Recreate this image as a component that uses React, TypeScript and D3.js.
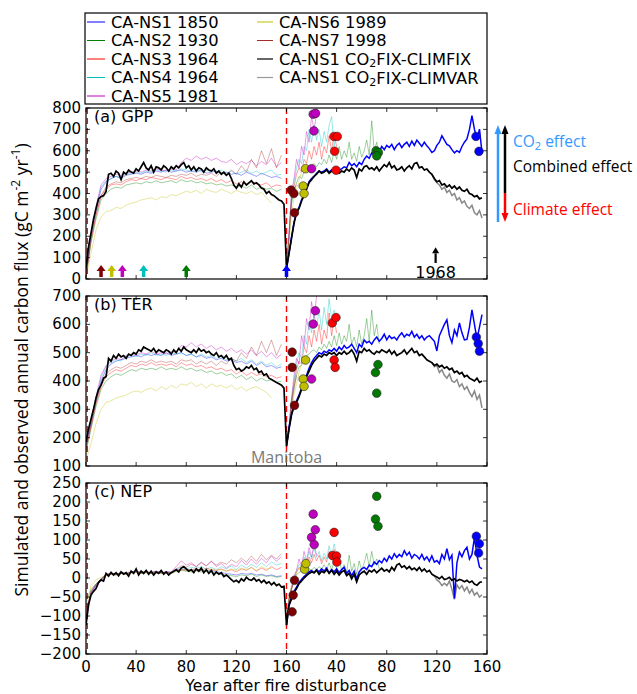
import React from "react";
import * as d3 from "d3";

// ---------------- DATA ----------------
const xTickYears = [0, 40, 80, 120, 160, 200, 240, 280, 320];
const xTickLabels = ["0", "40", "80", "120", "160", "40", "80", "120", "160"];

// step 2 yr from year 0
const gppClimfix = [50,150,215,280,330,375,385,390,410,490,
495,480,505,495,465,500,490,510,500,495,
515,505,525,545,520,510,530,500,525,520,
510,530,520,505,525,515,530,520,535,545,
520,530,510,525,505,520,515,500,520,510,
505,515,495,505,490,500,485,495,470,440,
425,445,430,455,440,450,460,445,450,440,
425,420,400,410,395,390,380,370,365,350,
50,120,190,260,310,330,365,390,420,450,
465,480,490,505,495,500,510,495,505,500,
510,495,505,500,515,505,520,510,475,515,
505,525,530,515,520,510,525,505,520,535,
525,545,520,530,510,515,525,505,520,530,
515,540,545,520,525,510,515,500,490,470,
455,460,440,445,430,440,425,435,420,430,
415,410,420,400,395,385,390,375,380];
// step 2 yr from year 160
const gppNs1 = [50,120,195,265,315,335,370,395,425,455,
470,480,495,505,500,505,515,500,510,505,
520,510,515,525,520,545,530,540,525,545,
535,560,575,565,590,580,600,595,620,605,
625,615,630,605,625,635,615,630,640,620,
645,625,650,635,620,640,623,610,592,600,
625,640,670,650,630,623,605,590,600,592,
620,640,655,700,764,700,655,701,592];
// step 2 yr from year 276
const gppClimvar = [490,465,450,440,420,430,405,415,390,400,370,380,355,365,340,330,345,310,300,320,285];
// step 4 yr from year 0
const gppSpinNs1 = [20,200,320,420,455,470,480,470,485,490,495,490,500,495,505,500,510,500,505,510,500,505,500,510,495,500,505,495,500,490,495,485,500,490,480,495,485,475,480,470];
const gppSpinNs2 = [10,170,280,370,400,420,430,425,440,445,450,445,455,450,460,450,455,460,450,465,455,460,450,455,445,450,440,445,435,440,430,435,425,440,420,430,420,425,410,420];
const gppSpinNs3 = [15,185,300,390,420,440,445,440,455,465,460,470,465,475,470,465,475,470,465,480,470,475,465,470,460,470,455,465,450,460,445,455,440,455,445,440,450,430,440,435];
const gppSpinNs4 = [20,200,330,430,460,470,480,475,490,495,500,495,505,500,510,505,500,510,505,515,510,505,515,500,510,505,500,510,495,505,490,500,510,495,505,490,500,510,485,490];
const gppSpinNs5 = [20,210,340,440,470,480,490,485,495,500,505,500,510,505,515,510,505,515,510,545,565,555,575,560,570,555,565,550,545,560,535,550,540,555,530,550,535,565,525,545];
const gppSpinNs6 = [5,120,230,290,315,320,335,330,345,355,360,370,375,380,370,385,380,395,390,400,410,405,415,400,420,410,405,420,410,400,415,405,400,410,395,405,380,355];
const gppSpinNs7 = [15,180,300,390,430,445,455,450,465,470,475,470,480,475,485,480,475,485,480,490,485,495,480,490,485,495,480,500,485,510,490,530,500,560,520,600,540,610,520,580];
// step 2 yr from year 160
const gppRecNs7 = [40,200,380,420,440];
const gppRecNs6 = [30,170,300,380,420,460,500,520,510];
const gppRecNs5 = [40,220,400,470,560,520,620,580,690,640,760,700,770];
const gppRecNs4 = [40,210,390,450,520,560,540,620,600,700,640,720,650,700,620,690,640,720,760,620,680];
const gppRecNs3 = [40,200,370,430,490,520,500,560,540,600,560,620,580,640,560,620,590,670,600,680,620];
const gppRecNs2 = [40,190,350,410,450,480,470,500,510,520,530,540,525,545,535,560,540,580,545,600,560,620,560,600,570,640,560,590,550,620,570,600,650,580,740,600,640,560];
const gppObs: [string, number, number][] = [
  ["NS7",163.7,416],["NS7",165.9,400],["NS7",166.4,310],
  ["NS6",175.2,516],["NS6",173.3,435],["NS6",174,400],
  ["NS5",181.3,771],["NS5",183.2,775],["NS5",181.9,693],["NS5",180,516],
  ["NS3",197.9,667],["NS3",200.5,667],["NS3",198.4,598],["NS3",199.5,509],
  ["NS2",231.5,600],["NS2",233.3,592],["NS2",232,576],
  ["NS1",311.2,667],["NS1",313.6,597],
];

const terClimfix = [186,230,265,300,340,370,385,410,415,480,
470,490,480,495,485,490,480,495,490,500,
495,510,505,520,515,510,505,515,500,510,
505,500,510,505,495,510,500,515,505,520,
510,505,500,510,500,515,505,510,500,505,
495,490,500,485,490,480,490,475,480,455,
440,445,435,440,450,445,455,440,445,430,
435,420,425,410,405,400,395,390,385,375,
170,230,280,310,325,345,370,390,415,435,
455,470,480,490,485,495,490,500,495,500,
490,500,495,505,495,500,510,495,470,505,
500,515,505,510,500,495,505,500,510,505,
500,510,495,505,490,495,500,510,495,505,
515,500,505,490,495,485,475,470,465,455,
460,450,455,445,450,440,445,430,435,425,
430,415,420,410,405,400,410,395,400];
const terNs1 = [170,235,285,315,330,350,375,395,420,445,
465,480,490,500,495,505,500,510,505,515,
505,520,510,525,515,520,530,515,500,530,
520,545,535,540,530,545,555,540,550,565,
545,560,550,555,545,560,570,555,565,560,
575,555,565,550,560,545,555,560,550,540,
506,560,580,600,616,560,535,580,560,605,
570,545,547,590,651,600,547,590,634];
const terClimvar = [465,450,455,430,440,420,410,425,400,395,405,380,390,370,380,360,345,365,335,350,305];
const terSpinNs1 = [170,250,330,400,440,460,470,475,480,485,490,485,495,490,495,490,500,490,495,500,490,495,485,490,480,485,475,480,470,475,465,470,460,470,455,465,450,455,445,450];
const terSpinNs2 = [150,230,310,370,400,415,425,420,430,440,435,445,440,445,440,450,440,445,440,450,440,445,435,440,430,435,425,430,420,425,410,420,405,415,400,410,400,405,395,400];
const terSpinNs3 = [160,240,320,380,415,430,440,435,445,455,450,460,455,465,455,460,455,460,450,465,455,460,450,455,445,450,440,445,435,440,425,435,420,430,420,425,415,420,410,415];
const terSpinNs4 = [170,255,340,410,450,465,475,470,485,490,485,495,490,500,490,495,490,500,495,500,490,495,485,495,485,490,480,485,475,480,470,480,465,475,460,470,455,465,450,460];
const terSpinNs5 = [175,260,345,420,455,470,480,475,490,495,490,500,495,505,495,500,495,505,500,525,520,535,520,530,515,525,510,520,505,515,500,510,495,510,490,505,485,500,480,495];
const terSpinNs6 = [120,180,250,300,325,330,340,345,350,360,365,360,370,375,365,380,370,385,375,390,385,395,380,390,375,390,380,385,375,385,370,380,365,375,380,370,360,340];
const terSpinNs7 = [160,240,325,390,425,440,450,445,455,465,460,470,465,475,465,470,465,470,460,475,470,475,460,470,460,470,455,470,460,480,470,500,480,520,490,540,500,545,490,530];
const terRecNs7 = [165,230,330,380,420];
const terRecNs6 = [160,220,300,350,390,430,460,480,470];
const terRecNs5 = [170,240,340,420,480,460,560,520,620,580,680,620,700];
const terRecNs4 = [170,240,330,400,460,500,480,560,530,610,570,640,590,650,580,660,600,690,620,650,600];
const terRecNs3 = [170,230,320,390,440,470,460,520,500,560,520,580,540,600,530,580,550,640,560,620,570];
const terRecNs2 = [170,225,310,370,420,450,455,480,490,495,505,510,500,520,510,530,515,540,520,560,525,570,530,560,540,600,530,555,520,580,530,560,620,540,650,560,600,530];
const terObs: [string, number, number][] = [
  ["NS7",164.5,502],["NS7",164.5,448],["NS7",166.4,314],
  ["NS6",175.2,474],["NS6",173.3,407],["NS6",174,381],
  ["NS5",183,648],["NS5",181.3,601],["NS5",180,407],
  ["NS3",196.5,605],["NS3",199.5,624],["NS3",198,474],["NS3",198.8,448],
  ["NS2",233,458],["NS2",231,430],["NS2",232,357],
  ["NS1",311.5,555],["NS1",313,532],["NS1",314,505],
];

const nepClimfix = [-124,-70,-45,-35,-28,-12,-5,-8,12,5,
15,8,14,6,16,10,14,5,18,12,
24,8,18,12,20,10,18,8,16,12,
20,10,16,8,14,18,22,16,26,30,
24,18,22,14,24,18,26,14,22,12,
20,8,16,10,14,4,8,2,-4,-10,
-6,-12,-2,-8,2,-4,-6,0,-8,-4,
-12,-6,-14,-10,-18,-12,-20,-16,-24,-22,
-124,-72,-55,-38,-28,-15,-8,0,6,12,
16,14,20,10,18,14,22,12,20,10,
18,8,16,20,6,12,-2,10,-10,8,
14,18,10,20,16,22,14,20,26,18,
22,16,28,20,34,38,28,32,24,30,
22,26,20,28,18,24,16,20,10,6,
3,-2,4,-4,-2,2,-6,-2,-8,-4,
-6,-10,-6,-12,-8,-16,-19,-12,-10];
const nepNs1 = [-124,-70,-50,-35,-24,-12,-4,4,10,16,
20,14,22,16,24,18,26,14,22,16,
24,14,22,28,12,20,6,18,-2,16,
24,28,22,34,30,42,36,46,40,52,
44,58,50,64,54,62,56,72,60,68,
52,62,58,50,62,48,56,44,58,42,
46,38,62,50,77,48,60,-54,40,68,
56,72,81,50,62,107,60,29,24];
const nepClimvar = [10,6,-5,-10,-20,-14,-20,-8,-30,-56,-18,-28,-20,-34,-24,-40,-30,-45,-38,-50,-44];
const nepSpinNs1 = [-120,-40,-20,-5,8,12,10,14,12,15,18,14,16,14,16,14,16,14,20,24,22,20,22,20,18,20,16,14,12,10,8,12,10,12,8,10,6,8,4,6];
const nepSpinNs2 = [-60,-30,-15,-3,8,10,8,12,10,14,15,12,14,12,15,12,14,12,18,20,18,16,20,16,18,14,12,10,8,6,4,8,6,10,4,8,4,6,2,4];
const nepSpinNs3 = [-90,-35,-18,-4,9,11,9,13,11,14,16,13,15,13,16,13,15,13,19,22,20,22,24,20,26,22,20,24,18,22,16,24,20,28,18,26,20,30,22,28];
const nepSpinNs4 = [-100,-38,-16,-2,10,12,10,14,12,16,18,15,17,14,18,14,16,15,22,28,24,28,26,30,24,28,22,30,24,32,22,34,26,36,28,40,30,42,34,38];
const nepSpinNs5 = [-110,-40,-18,-3,10,12,10,14,12,16,18,14,17,14,18,14,16,16,30,45,34,40,30,42,32,44,30,38,26,36,30,46,34,50,36,52,40,58,44,56];
const nepSpinNs6 = [-80,-20,-5,2,8,10,8,12,10,13,15,12,14,12,14,12,14,12,18,22,20,22,18,22,18,24,20,22,18,24,20,26,22,28,20,30,24,26];
const nepSpinNs7 = [-100,-36,-16,-3,9,11,10,13,11,15,17,14,16,13,17,14,15,14,24,32,28,36,30,40,32,44,34,42,36,48,40,52,42,58,44,62,48,60,50,64];
const nepRecNs7 = [-124,-60,-30,-10,0];
const nepRecNs6 = [-120,-50,-20,0,15,25,35,30,40];
const nepRecNs5 = [-130,-55,-25,5,20,50,30,70,45,80,55,90,60];
const nepRecNs4 = [-120,-55,-25,0,20,35,30,55,40,70,50,80,55,70,45,65,50,85,55,90,60];
const nepRecNs3 = [-120,-55,-28,-5,15,28,22,40,30,55,40,62,45,60,38,55,42,70,48,75,50];
const nepRecNs2 = [-120,-55,-30,-8,8,15,18,20,22,25,20,28,22,30,24,35,22,40,20,45,25,50,20,35,15,60,18,38,10,45,20,40,65,30,70,35,50,25];
const nepObs: [string, number, number][] = [
  ["NS7",164.5,-89],["NS7",165.3,-45],["NS7",166.4,-6],
  ["NS6",174.4,23],["NS6",175.5,38],
  ["NS5",181.3,168],["NS5",183,127],["NS5",180,107],["NS5",182.1,88],
  ["NS3",198,120],["NS3",196.7,59],["NS3",199.9,58],["NS3",200.2,42],
  ["NS2",232,215],["NS2",231,155],["NS2",233,136],
  ["NS1",311.5,110],["NS1",313.9,90],["NS1",313.3,66],
];

const cohortArrowYears = [12, 20.5, 29, 46, 80, 160];
const cohortArrowSites = ["NS7", "NS6", "NS5", "NS4", "NS2", "NS1"];
const legendCol1 = [["CA-NS1 1850", "NS1"], ["CA-NS2 1930", "NS2"], ["CA-NS3 1964", "NS3"], ["CA-NS4 1964", "NS4"], ["CA-NS5 1981", "NS5"]];
const legendCol2 = [["CA-NS6 1989", "NS6"], ["CA-NS7 1998", "NS7"]];

// ---------------- STYLE / LAYOUT ----------------
const W = 637, H = 694;
const XL = 86, XR = 487;
const x = d3.scaleLinear().domain([0, 320]).range([XL, XR]);
const lineColor: Record<string, string> = {
  NS1: "#0000ff", NS2: "#008000", NS3: "#ff0000", NS4: "#00bfbf",
  NS5: "#bf00bf", NS6: "#bfbf00", NS7: "#a52a2a",
};
const dotColor: Record<string, string> = {
  NS1: "#0000ff", NS2: "#007a00", NS3: "#ff0000", NS4: "#00bfbf",
  NS5: "#bf00bf", NS6: "#bfbf00", NS7: "#7f0000",
};
const SITES = ["NS1", "NS2", "NS3", "NS4", "NS5", "NS6", "NS7"];

type PanelDef = {
  id: string; title: string; top: number; bottom: number; lo: number; hi: number; step: number;
  climfix: number[]; ns1: number[]; climvar: number[]; spin: number[][]; rec: [string, number[]][];
  obs: [string, number, number][];
};

const panels: PanelDef[] = [
  { id: "a", title: "(a) GPP", top: 108, bottom: 279, lo: 0, hi: 800, step: 100,
    climfix: gppClimfix, ns1: gppNs1, climvar: gppClimvar,
    spin: [gppSpinNs1, gppSpinNs2, gppSpinNs3, gppSpinNs4, gppSpinNs5, gppSpinNs6, gppSpinNs7],
    rec: [["NS2", gppRecNs2], ["NS3", gppRecNs3], ["NS4", gppRecNs4], ["NS5", gppRecNs5], ["NS6", gppRecNs6], ["NS7", gppRecNs7]],
    obs: gppObs },
  { id: "b", title: "(b) TER", top: 296, bottom: 466, lo: 100, hi: 700, step: 100,
    climfix: terClimfix, ns1: terNs1, climvar: terClimvar,
    spin: [terSpinNs1, terSpinNs2, terSpinNs3, terSpinNs4, terSpinNs5, terSpinNs6, terSpinNs7],
    rec: [["NS2", terRecNs2], ["NS3", terRecNs3], ["NS4", terRecNs4], ["NS5", terRecNs5], ["NS6", terRecNs6], ["NS7", terRecNs7]],
    obs: terObs },
  { id: "c", title: "(c) NEP", top: 483, bottom: 654, lo: -200, hi: 250, step: 50,
    climfix: nepClimfix, ns1: nepNs1, climvar: nepClimvar,
    spin: [nepSpinNs1, nepSpinNs2, nepSpinNs3, nepSpinNs4, nepSpinNs5, nepSpinNs6, nepSpinNs7],
    rec: [["NS2", nepRecNs2], ["NS3", nepRecNs3], ["NS4", nepRecNs4], ["NS5", nepRecNs5], ["NS6", nepRecNs6], ["NS7", nepRecNs7]],
    obs: nepObs },
];

function seriesPath(start: number, step: number, vals: number[], y: d3.ScaleLinear<number, number>) {
  return d3.line<number>().x((_, i) => x(start + i * step)).y((v) => y(v))(vals) || "";
}

function fmt(v: number) {
  return v < 0 ? "\u2212" + Math.abs(v) : String(v);
}

function Arrow({ x0, y0, y1, color, w, headW, headL }: { x0: number; y0: number; y1: number; color: string; w: number; headW: number; headL: number }) {
  const dir = y1 < y0 ? -1 : 1;
  const hb = y1 - dir * headL;
  return (
    <g>
      <line x1={x0} x2={x0} y1={y0} y2={hb} stroke={color} strokeWidth={w} />
      <polygon points={`${x0 - headW / 2},${hb} ${x0 + headW / 2},${hb} ${x0},${y1}`} fill={color} />
    </g>
  );
}

function Panel({ p }: { p: PanelDef }) {
  const y = d3.scaleLinear().domain([p.lo, p.hi]).range([p.bottom, p.top]);
  const yTicks = d3.range(p.lo, p.hi + 1, p.step);
  const clip = `clip-${p.id}`;
  return (
    <g>
      <defs>
        <clipPath id={clip}>
          <rect x={XL} y={p.top} width={XR - XL} height={p.bottom - p.top} />
        </clipPath>
      </defs>
      <g clipPath={`url(#${clip})`}>
        {p.spin.map((s, i) => (
          <path key={"s" + i} d={seriesPath(0, 4, s, y)} fill="none" stroke={lineColor[SITES[i]]} strokeOpacity={0.38} strokeWidth={1} />
        ))}
        {p.rec.map(([site, s]) => (
          <path key={"r" + site} d={seriesPath(160, 2, s, y)} fill="none" stroke={lineColor[site]} strokeOpacity={0.38} strokeWidth={1} />
        ))}
        {[1, 160].map((yr) => (
          <line key={"d" + yr} x1={x(yr)} x2={x(yr)} y1={p.top} y2={p.bottom} stroke="#ff0000" strokeWidth={1.4} strokeDasharray="6,4" />
        ))}
        <path d={seriesPath(276, 2, p.climvar, y)} fill="none" stroke="#888" strokeWidth={1.5} />
        <path d={seriesPath(160, 2, p.ns1, y)} fill="none" stroke="#0000ff" strokeWidth={1.5} />
        <path d={seriesPath(0, 2, p.climfix, y)} fill="none" stroke="#000" strokeWidth={1.7} />
      </g>
      {p.obs.map(([site, yr, v], i) => (
        <circle key={"o" + i} cx={x(yr)} cy={y(v)} r={4.3} fill={dotColor[site]} stroke="#222" strokeWidth={0.6} />
      ))}
      <rect x={XL} y={p.top} width={XR - XL} height={p.bottom - p.top} fill="none" stroke="#000" strokeWidth={1.2} />
      {yTicks.map((t) => (
        <g key={"yt" + t}>
          <line x1={XL} x2={XL + 4} y1={y(t)} y2={y(t)} stroke="#000" strokeWidth={0.8} />
          <line x1={XR - 4} x2={XR} y1={y(t)} y2={y(t)} stroke="#000" strokeWidth={0.8} />
          <text x={XL - 5} y={y(t)} textAnchor="end" dominantBaseline="central" fontSize={15}>{fmt(t)}</text>
        </g>
      ))}
      {xTickYears.map((t) => (
        <g key={"xt" + t}>
          <line x1={x(t)} x2={x(t)} y1={p.bottom} y2={p.bottom - 4} stroke="#000" strokeWidth={0.8} />
          <line x1={x(t)} x2={x(t)} y1={p.top} y2={p.top + 4} stroke="#000" strokeWidth={0.8} />
        </g>
      ))}
      <text x={94} y={p.top + 8} dominantBaseline="central" fontSize={16}>{p.title}</text>
      {p.id === "a" && (
        <g>
          {cohortArrowYears.map((yr, i) => (
            <Arrow key={"ca" + i} x0={x(yr)} y0={p.bottom - 2} y1={p.bottom - 14} color={dotColor[cohortArrowSites[i]]} w={3.5} headW={9} headL={6} />
          ))}
          <Arrow x0={x(279)} y0={y(75)} y1={y(148)} color="#000" w={2.2} headW={7} headL={6} />
          <text x={x(279)} y={272} textAnchor="middle" dominantBaseline="central" fontSize={16}>1968</text>
        </g>
      )}
      {p.id === "b" && (
        <text x={x(160)} y={p.bottom - 9} textAnchor="middle" dominantBaseline="central" fontSize={16} fill="#7a7a7a" fontFamily="Open Sans">Manitoba</text>
      )}
      {p.id === "c" && xTickYears.map((t, i) => (
        <text key={"xl" + t} x={x(t)} y={667} textAnchor="middle" dominantBaseline="central" fontSize={15}>{xTickLabels[i]}</text>
      ))}
    </g>
  );
}

function Legend() {
  const rowY = (i: number) => 22 + i * 18.5;
  return (
    <g fontSize={16.3}>
      <rect x={85} y={13} width={402} height={91} fill="#fff" stroke="#000" strokeWidth={1.2} />
      {legendCol1.map(([lab, site], i) => (
        <g key={lab + i}>
          <line x1={87} x2={105} y1={rowY(i)} y2={rowY(i)} stroke={lineColor[site]} strokeWidth={1} />
          <text x={111} y={rowY(i)} dominantBaseline="central">{lab}</text>
        </g>
      ))}
      {legendCol2.map(([lab, site], i) => (
        <g key={lab + i}>
          <line x1={257} x2={273} y1={rowY(i)} y2={rowY(i)} stroke={lineColor[site]} strokeWidth={1} />
          <text x={279} y={rowY(i)} dominantBaseline="central">{lab}</text>
        </g>
      ))}
      {[["CLIMFIX", "#000"], ["CLIMVAR", "#999"]].map(([tag, col], j) => (
        <g key={tag}>
          <line x1={257} x2={273} y1={rowY(2 + j)} y2={rowY(2 + j)} stroke={col} strokeWidth={1.2} />
          <text x={279} y={rowY(2 + j)} dominantBaseline="central">
            CA-NS1 CO<tspan dy={4} fontSize={11}>2</tspan><tspan dy={-4}>FIX-{tag}</tspan>
          </text>
        </g>
      ))}
    </g>
  );
}

export default function App() {
  return (
    <svg width={W} height={H} style={{ position: "absolute", left: 0, top: 0, background: "#fff" }} fontFamily="DejaVu Sans">
      <rect width={W} height={H} fill="#fff" />
      <Legend />
      {panels.map((p) => <Panel key={p.id} p={p} />)}
      <text x={286} y={686} textAnchor="middle" dominantBaseline="central" fontSize={15.5}>Year after fire disturbance</text>
      <text transform="translate(21,370) rotate(-90)" textAnchor="middle" dominantBaseline="central" fontSize={17.5} fontFamily="Open Sans">
        Simulated and observed annual carbon flux (gC m<tspan dy={-6} fontSize={12}>-2</tspan><tspan dy={6}> yr</tspan><tspan dy={-6} fontSize={12}>-1</tspan><tspan dy={6}>)</tspan>
      </text>
      <Arrow x0={498} y0={222} y1={125} color="#3399ff" w={2.5} headW={7} headL={9} />
      <Arrow x0={505} y0={193} y1={125} color="#000" w={2.5} headW={7} headL={9} />
      <Arrow x0={505} y0={193} y1={222} color="#ff0000" w={2.5} headW={7} headL={9} />
      <g fontFamily="Open Sans" fontSize={15.5}>
        <text x={513} y={141} dominantBaseline="central" fill="#3399ff">CO<tspan dy={4} fontSize={11}>2</tspan><tspan dy={-4}> effect</tspan></text>
        <text x={513} y={166} dominantBaseline="central" fill="#000">Combined effect</text>
        <text x={513} y={209} dominantBaseline="central" fill="#ff0000">Climate effect</text>
      </g>
    </svg>
  );
}
